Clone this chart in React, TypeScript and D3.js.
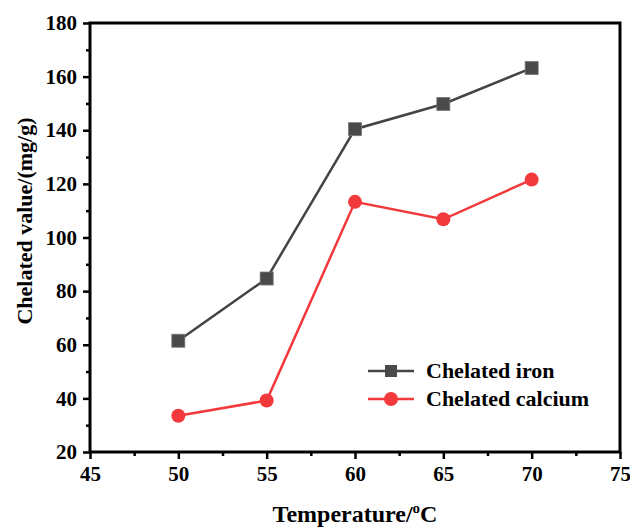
import React, { useEffect, useRef } from "react";
import * as d3 from "d3";

// data
const temperatures = [50, 55, 60, 65, 70];
const ironValues = [61.5, 84.7, 140.4, 149.8, 163.2];
const calciumValues = [33.5, 39.2, 113.3, 106.8, 121.6];
const xTicks = [45, 50, 55, 60, 65, 70, 75];
const yTicks = [20, 40, 60, 80, 100, 120, 140, 160, 180];
const seriesNames = ["Chelated iron", "Chelated calcium"];

const W = 630;
const H = 527;
const FONT = "Liberation Serif";
const IRON = "#444444";
const CALCIUM = "#f2393c";

export default function App() {
  const ref = useRef<SVGSVGElement>(null);

  useEffect(() => {
    const svg = d3.select(ref.current);
    svg.selectAll("*").remove();

    const margin = { top: 23, right: 10, bottom: 75, left: 90 };
    const innerW = W - margin.left - margin.right;
    const innerH = H - margin.top - margin.bottom;

    const x = d3.scaleLinear().domain([45, 75]).range([0, innerW]);
    const y = d3.scaleLinear().domain([20, 180]).range([innerH, 0]);

    svg.append("rect").attr("width", W).attr("height", H).attr("fill", "#fff");

    const g = svg.append("g").attr("transform", `translate(${margin.left},${margin.top})`);

    // minor ticks sit halfway between the major ones
    const xMinor = d3.range(47.5, 75, 5);
    const yMinor = d3.range(30, 180, 20);

    const xAxis = g.append("g")
      .attr("transform", `translate(0,${innerH})`)
      .call(d3.axisBottom(x).tickValues(xTicks).tickSize(7).tickPadding(7).tickFormat(d3.format("d")));
    g.append("g")
      .attr("transform", `translate(0,${innerH})`)
      .call(d3.axisBottom(x).tickValues(xMinor).tickSize(4).tickFormat(() => ""));

    const yAxis = g.append("g")
      .call(d3.axisLeft(y).tickValues(yTicks).tickSize(7).tickPadding(6).tickFormat(d3.format("d")));
    g.append("g")
      .call(d3.axisLeft(y).tickValues(yMinor).tickSize(4).tickFormat(() => ""));

    [xAxis, yAxis].forEach((a) => {
      a.selectAll("text")
        .attr("font-family", FONT)
        .attr("font-weight", "bold")
        .attr("font-size", 21)
        .attr("fill", "#000");
    });
    g.selectAll(".tick line").attr("stroke", "#000").attr("stroke-width", 2.5);
    g.selectAll(".domain").remove();

    // frame
    g.append("rect")
      .attr("width", innerW)
      .attr("height", innerH)
      .attr("fill", "none")
      .attr("stroke", "#000")
      .attr("stroke-width", 3);

    const line = d3.line<number>()
      .x((_, i) => x(temperatures[i]))
      .y((d) => y(d));

    // iron series
    g.append("path")
      .datum(ironValues)
      .attr("fill", "none")
      .attr("stroke", IRON)
      .attr("stroke-width", 2.5)
      .attr("d", line);
    g.selectAll(".sq")
      .data(ironValues)
      .enter()
      .append("rect")
      .attr("x", (_, i) => x(temperatures[i]) - 6.5)
      .attr("y", (d) => y(d) - 6.5)
      .attr("width", 13)
      .attr("height", 13)
      .attr("fill", "#4a4a4a")
      .attr("stroke", "#777")
      .attr("stroke-width", 0.8);

    // calcium series
    g.append("path")
      .datum(calciumValues)
      .attr("fill", "none")
      .attr("stroke", CALCIUM)
      .attr("stroke-width", 2.5)
      .attr("d", line);
    g.selectAll(".dot")
      .data(calciumValues)
      .enter()
      .append("circle")
      .attr("cx", (_, i) => x(temperatures[i]))
      .attr("cy", (d) => y(d))
      .attr("r", 7)
      .attr("fill", CALCIUM);

    // legend
    const legend = svg.append("g").attr("transform", "translate(368,371)");
    seriesNames.forEach((name, i) => {
      const row = legend.append("g").attr("transform", `translate(0,${i * 28})`);
      const color = i === 0 ? IRON : CALCIUM;
      row.append("line").attr("x1", 0).attr("x2", 46).attr("stroke", color).attr("stroke-width", 2.5);
      if (i === 0) {
        row.append("rect").attr("x", 17).attr("y", -6).attr("width", 12).attr("height", 12).attr("fill", "#4a4a4a");
      } else {
        row.append("circle").attr("cx", 23).attr("cy", 0).attr("r", 7).attr("fill", color);
      }
      row.append("text")
        .attr("x", 58)
        .attr("y", 0)
        .attr("dy", "0.33em")
        .attr("font-family", FONT)
        .attr("font-weight", "bold")
        .attr("font-size", 22)
        .text(name);
    });

    // axis titles
    const xt = svg.append("text")
      .attr("x", margin.left + innerW / 2)
      .attr("y", 522)
      .attr("text-anchor", "middle")
      .attr("font-family", FONT)
      .attr("font-weight", "bold")
      .attr("font-size", 24);
    xt.append("tspan").text("Temperature/");
    xt.append("tspan").attr("font-size", 15).attr("dy", -9).text("o");
    xt.append("tspan").attr("dy", 9).text("C");

    svg.append("text")
      .attr("transform", `translate(32,221) rotate(-90)`)
      .attr("text-anchor", "middle")
      .attr("font-family", FONT)
      .attr("font-weight", "bold")
      .attr("font-size", 22)
      .text("Chelated value/(mg/g)");
  }, []);

  return (
    <svg
      ref={ref}
      width={W}
      height={H}
      style={{ position: "absolute", left: 0, top: 0, display: "block" }}
    />
  );
}
